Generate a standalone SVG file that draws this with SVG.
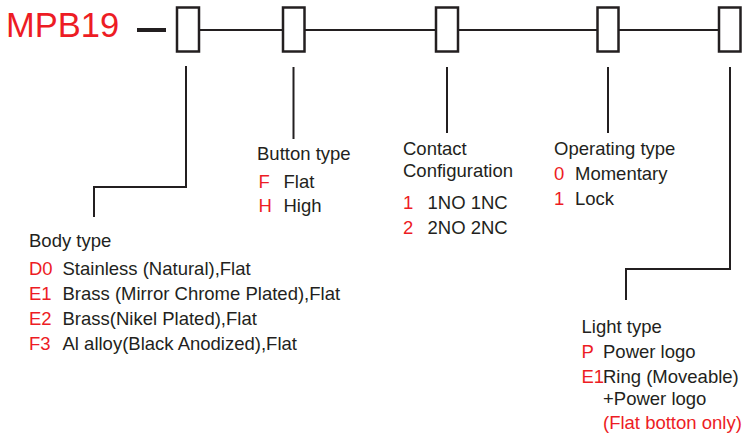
<svg xmlns="http://www.w3.org/2000/svg" width="743" height="434" viewBox="0 0 743 434">
<style>
.t{font-family:"Liberation Sans",Arial,sans-serif;font-size:18.5px;fill:#231f20}
.r{fill:#ed1c24}
.ln{fill:none;stroke:#231f20;stroke-width:2}
.bx{fill:#fff;stroke:#231f20;stroke-width:2.5}
</style>
<rect width="743" height="434" fill="#fff"/>
<text x="6" y="37" style="font-family:'Liberation Sans',Arial,sans-serif;font-size:34.5px;fill:#ed1c24">MPB19</text>
<g id="connectors">
<line x1="137" y1="30" x2="166" y2="30" stroke="#231f20" stroke-width="4"/>
<line class="ln" x1="199" y1="30" x2="720" y2="30"/>
<polyline class="ln" points="186,66 186,187 94,187 94,217"/>
<line class="ln" x1="293.5" y1="67" x2="293.5" y2="139"/>
<line class="ln" x1="447" y1="67" x2="447" y2="133"/>
<line class="ln" x1="608" y1="67" x2="608" y2="133"/>
<polyline class="ln" points="730,67 730,269 626,269 626,300"/>
</g>
<g id="box1"><rect class="bx" x="177" y="7.5" width="22" height="44"/></g>
<g id="box2"><rect class="bx" x="283" y="7.5" width="21.5" height="44"/></g>
<g id="box3"><rect class="bx" x="436" y="7.5" width="22" height="44"/></g>
<g id="box4"><rect class="bx" x="597.5" y="7.5" width="21" height="44"/></g>
<g id="box5"><rect class="bx" x="719" y="7.5" width="21.5" height="44"/></g>
<g id="body-type">
<text class="t" x="29" y="247">Body type</text>
<text class="t r" x="29" y="274.5">D0</text><text class="t" x="62.5" y="274.5">Stainless (Natural),Flat</text>
<text class="t r" x="29" y="299.5">E1</text><text class="t" x="62.5" y="299.5">Brass (Mirror Chrome Plated),Flat</text>
<text class="t r" x="29" y="324.5">E2</text><text class="t" x="62.5" y="324.5">Brass(Nikel Plated),Flat</text>
<text class="t r" x="29" y="350">F3</text><text class="t" x="62.5" y="350">Al alloy(Black Anodized),Flat</text>
</g>
<g id="button-type">
<text class="t" x="257" y="159.5">Button type</text>
<text class="t r" x="258.5" y="188">F</text><text class="t" x="283.5" y="188">Flat</text>
<text class="t r" x="258.5" y="212">H</text><text class="t" x="283.5" y="212">High</text>
</g>
<g id="contact">
<text class="t" x="403" y="155">Contact</text>
<text class="t" x="403" y="177">Configuration</text>
<text class="t r" x="403" y="208.5">1</text><text class="t" x="427.5" y="208.5">1NO 1NC</text>
<text class="t r" x="403" y="233.5">2</text><text class="t" x="427.5" y="233.5">2NO 2NC</text>
</g>
<g id="operating-type">
<text class="t" x="554" y="154.5">Operating type</text>
<text class="t r" x="554" y="180">0</text><text class="t" x="575" y="180">Momentary</text>
<text class="t r" x="554" y="205">1</text><text class="t" x="575" y="205">Lock</text>
</g>
<g id="light-type">
<text class="t" x="581.5" y="333">Light type</text>
<text class="t r" x="581.5" y="357.5">P</text><text class="t" x="603" y="357.5">Power logo</text>
<text class="t r" x="581.5" y="382.5">E1</text><text class="t" x="603" y="382.5">Ring (Moveable)</text>
<text class="t" x="603" y="405">+Power logo</text>
<text class="t r" x="603" y="428.5">(Flat botton only)</text>
</g>
</svg>
